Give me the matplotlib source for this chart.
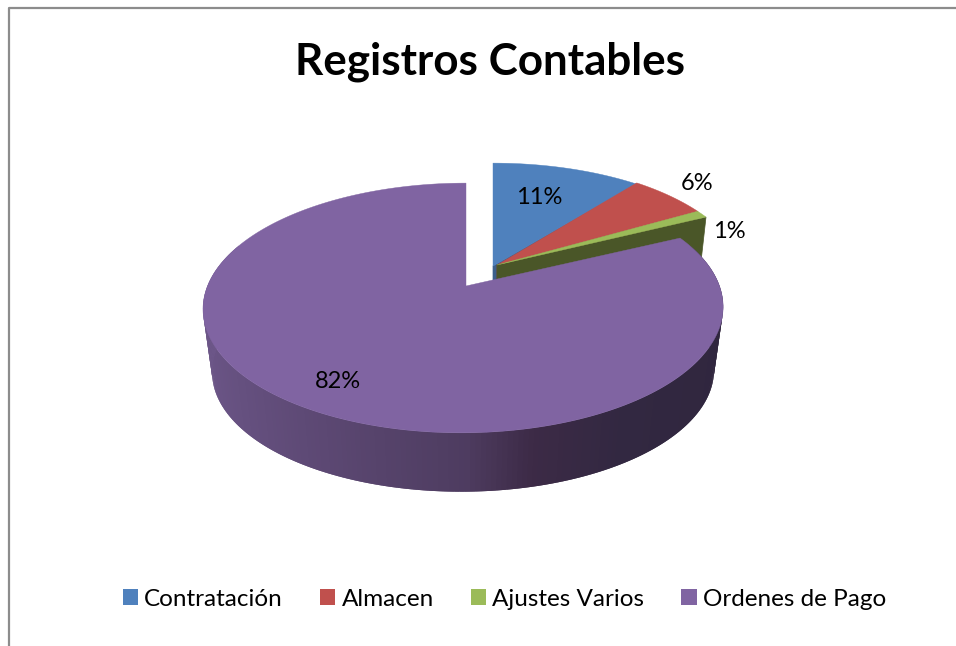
import numpy as np
import matplotlib
matplotlib.use("Agg")
import matplotlib.pyplot as plt
from matplotlib.patches import Patch

# data
categories = ["Contratación", "Almacen", "Ajustes Varios", "Ordenes de Pago"]
percent = [11, 6, 1, 82]

# style
COLORS = ["#4f81bd", "#c0504d", "#9bbb59", "#8064a2"]
WALLS = ["#3b5f8c", "#8a3a38", "#4a5628", "#3a2d4a"]
APEX = [(493, 266), (497, 265), (497, 265), (466, 286)]   # exploded centres, px
RADIUS = [256, 250, 250, 256]
LABEL_POS = [(539, 198), (697, 184), (729, 232), (338, 382)]

PERSP = 0.176     # perspective strength
SQUASH = 121.0    # vertical radius of the top face at the apex
DEPTH = 64        # apex drop of the bottom face
SHRINK = 0.965    # bottom face is a bit smaller
LEAN = -2.5       # slight sideways lean of the near edge

plt.rcParams["font.family"] = ["Lato", "DejaVu Sans"]


def rim(theta, apex, r, bottom=False):
    # theta is clockwise from 12 o'clock, radians
    u, v = np.sin(theta), np.cos(theta)
    w = 1 + PERSP * v
    k = SHRINK if bottom else 1.0
    x = apex[0] + k * r * u / w + LEAN * (1 - v)
    y = apex[1] + (DEPTH if bottom else 0) - k * SQUASH * v / w
    return x, y


def side_color(u):
    stops = [-1, -0.48, 0, 0.22, 0.53, 1]
    rgb = [np.interp(u, stops, c) for c in ([108, 92, 78, 60, 50, 48],
                                            [86, 72, 60, 42, 40, 38],
                                            [136, 115, 96, 70, 65, 62])]
    return tuple(c / 255 for c in rgb)


fig = plt.figure(figsize=(9.56, 6.46), dpi=100, facecolor="white")
ax = fig.add_axes([0, 0, 1, 1])
ax.set_xlim(0, 956)
ax.set_ylim(646, 0)
ax.axis("off")

# frame of the chart area, only top and left are in the crop
ax.plot([9, 9, 956], [646, 8, 8], color="#8c8c8c", lw=1.6, solid_capstyle="butt")

ends = np.cumsum(percent) / np.sum(percent) * 2 * np.pi
starts = np.r_[0, ends[:-1]]

handles = []
for i, (a0, a1) in enumerate(zip(starts, ends)):
    apex, r = APEX[i], RADIUS[i]
    th = np.linspace(a0, a1, max(int(np.degrees(a1 - a0)), 8))

    if i < 3:
        # end wall of the slice
        ex, ey = rim(a1, apex, r)
        bx, by = rim(a1, apex, r, bottom=True)
        ax.fill([apex[0], ex, bx, apex[0]], [apex[1], ey, by, apex[1] + DEPTH],
                color=WALLS[i], lw=0.5, zorder=2 + i)
    else:
        # outer side of the big slice, shaded left to right
        # each piece runs back over the one before so no seams show
        step = th[1] - th[0]
        for t0, t1 in zip(th[:-1], th[1:]):
            if np.cos((t0 + t1) / 2) > 0.35:
                continue
            x0, y0 = rim(t0 - step, apex, r)
            x1, y1 = rim(t1, apex, r)
            x2, y2 = rim(t1, apex, r, bottom=True)
            x3, y3 = rim(t0 - step, apex, r, bottom=True)
            c = side_color(np.sin((t0 + t1) / 2))
            ax.fill([x0, x1, x2, x3], [y0, y1, y2, y3], color=c, lw=0, zorder=6)

    x, y = rim(th, apex, r)
    ax.fill(np.r_[apex[0], x], np.r_[apex[1], y], color=COLORS[i], lw=0.3,
            zorder=3 + i if i < 3 else 7)
    handles.append(Patch(facecolor=COLORS[i], edgecolor="none", label=categories[i]))

    ax.text(LABEL_POS[i][0], LABEL_POS[i][1], f"{percent[i]}%", fontsize=17,
            ha="center", va="center", color="black", zorder=10)

ax.text(490, 62, "Registros Contables", fontsize=31.7, fontweight="bold",
        ha="center", va="center", color="black")

ax.legend(handles=handles, ncols=4, loc="center", bbox_to_anchor=(504.5 / 956, 1 - 599 / 646),
          frameon=False, fontsize=17.5, handlelength=0.62, handleheight=0.62,
          handletextpad=0.25, columnspacing=1.535, borderpad=0, borderaxespad=0, labelcolor="black")

fig.savefig("out.png", dpi=100, facecolor="white")
